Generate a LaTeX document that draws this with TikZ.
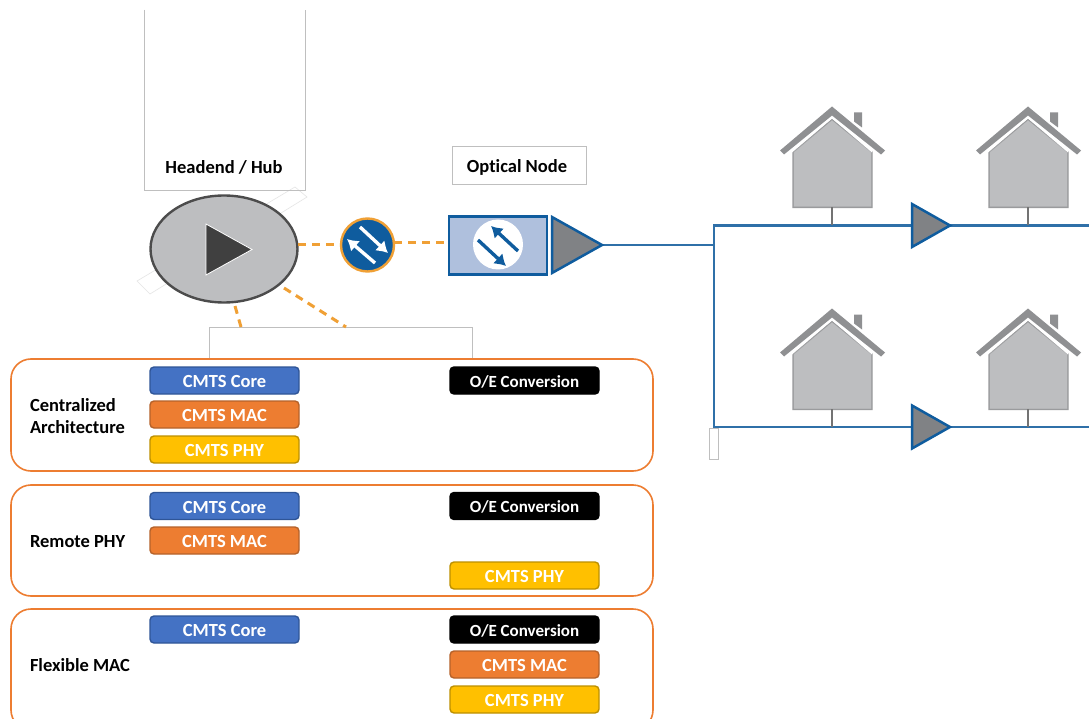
\documentclass[tikz,border=0pt]{standalone}
\usepackage{fontspec}
\setmainfont[Ligatures=NoCommon]{Carlito}
\usetikzlibrary{arrows.meta,calc,shapes.geometric}
\definecolor{netblue}{HTML}{0F5C9E}
\definecolor{linkblue}{HTML}{2F70A8}
\definecolor{dashor}{HTML}{F0A035}
\definecolor{panelor}{HTML}{ED7D31}
\definecolor{framegr}{HTML}{BFBFBF}
\definecolor{roofgr}{HTML}{8F9092}
\definecolor{bodygr}{HTML}{BDBEC0}
\definecolor{edgegr}{HTML}{9A9B9D}
\definecolor{ampgr}{HTML}{808285}
\definecolor{corefill}{HTML}{4472C4}
\definecolor{coreedge}{HTML}{2F5597}
\definecolor{macedge}{HTML}{B5622A}
\definecolor{phyfill}{HTML}{FFC000}
\definecolor{phyedge}{HTML}{BC9000}
\definecolor{nodefill}{HTML}{AFC0DD}
\tikzset{
  x=1pt,y=-1pt,
  every node/.style={inner sep=0pt,outer sep=0pt,font=\fontsize{18.5}{20}\selectfont\bfseries},
  tag/.style={rounded corners=4pt,minimum width=149pt,minimum height=27pt,line width=1.4pt,text=white,anchor=north west,text height=14pt,text depth=0pt},
  corebox/.style={tag,fill=corefill,draw=coreedge},
  macbox/.style={tag,fill=panelor,draw=macedge},
  phybox/.style={tag,fill=phyfill,draw=phyedge},
  oebox/.style={tag,fill=black,draw=black,text height=13pt,font=\fontsize{17}{20}\selectfont\bfseries},
  panel/.style={draw=panelor,line width=1.6pt,rounded corners=20pt,fill=white},
  archlabel/.style={anchor=west,align=left,text=black},
  frameline/.style={draw=framegr,line width=0.9pt},
  faint/.style={draw=black!10,line width=0.6pt},
  dashlink/.style={draw=dashor,line width=3pt,dash pattern=on 8pt off 6pt},
  cable/.style={draw=linkblue,line width=2.2pt},
  stem/.style={draw=black!55,line width=1.6pt},
  ampshape/.style={fill=ampgr,draw=netblue,line width=2.5pt,line join=miter},
  swarrow/.style={line width=3.4pt,-{Latex[length=11pt,width=14pt,sharp]}},
  pics/house/.style={code={
    \fill[bodygr!90!black,draw=edgegr,line width=1.2pt] (-39,-74)--(0,-106)--(40,-74)--(40,-18)--(-39,-18)--cycle;
    \fill[bodygr] (-38,-73)--(0,-105)--(39,-73)--(39,-19)--(-38,-19)--cycle;
    \fill[roofgr] (22,-113)--(30,-113)--(30,-98)--(22,-104)--cycle;
    \fill[white] (0,-113)--(42,-78)--(40,-73)--(0,-107)--(-40,-73)--(-42,-78)--cycle;
    \fill[roofgr] (0,-119)--(53,-75)--(49,-71)--(0,-110)--(-48,-71)--(-52,-75)--cycle;
  }}
}
\begin{document}
\begin{tikzpicture}
\useasboundingbox (0,0) rectangle (1089,719);
\fill[white] (0,0) rectangle (1089,719);

% faint rotated frame behind the hub
\draw[faint] (137,281)--(150,294)--(307,197)--(295,187)--cycle;

% frames
\draw[frameline] (144,10)--(144,190.5)--(283,190.5);
\draw[frameline] (283,190.5)--(305,190.5)--(305,10);
\node[draw=framegr,line width=0.9pt,minimum width=134pt,minimum height=38pt,anchor=north west] (optlabel) at (452.5,146) {};
\node[text=black] (hubtext) at (224,167) {Headend / Hub};
\node[text=black] (opttext) at (517,167) {Optical Node};
\node[draw=framegr,line width=0.6pt,minimum width=9pt,minimum height=31pt,anchor=north west] (tinybox) at (709,428) {};

% connector frame
\coordinate (fl) at (209.5,358);
\coordinate (fr) at (472.5,358);
\draw[frameline] (fl)--(209.5,327.5)--(472.5,327.5)--(fr);

% hub, switch and node shapes
\node[ellipse,draw=black!70,line width=2.4pt,fill=bodygr,minimum width=147pt,minimum height=107pt] (hub) at (224,249) {};
\draw[fill=black!75,draw=white,line width=0.8pt] (206,224)--(206,275)--(252,249.5)--cycle;

\node[circle,draw=dashor,line width=2.4pt,fill=netblue,minimum size=53pt] (sw) at (367.5,245) {};
\draw[white,swarrow] (360,227)--(388,253);
\draw[white,swarrow] (375,263)--(347,239);

\node[draw=netblue,line width=2.8pt,fill=nodefill,minimum width=98pt,minimum height=58pt] (onode) at (498,245.5) {};
\node[circle,fill=white,minimum size=50pt] (onodec) at (498,244.5) {};
\draw[netblue,swarrow] (518,251)--(491,226);
\draw[netblue,swarrow] (478,240)--(506,266);

% named junctions
\coordinate (amp0) at (602,245);
\coordinate (jmid) at (714,245);
\coordinate (jtop) at (714,225.5);
\coordinate (jbot) at (714,427);
\coordinate (amp1) at (950,225.5);
\coordinate (amp2) at (950,427);
\coordinate (endtop) at (1089,225.5);
\coordinate (endbot) at (1089,427);
\coordinate (h1) at (832,225.5);
\coordinate (h2) at (1028,225.5);
\coordinate (h3) at (832,427);
\coordinate (h4) at (1028,427);
\coordinate (s1) at (298,245);
\coordinate (s2) at (394,243);
\coordinate (s3) at (449,243);

% dashed links
\draw[dashlink] (s1)--(sw.west);
\draw[dashlink] (s2)--(s3);
\coordinate (d1a) at (235,306);
\coordinate (d1b) at (241,327);
\coordinate (d2a) at (284,288);
\coordinate (d2b) at (346,327);
\draw[dashlink] (d1a)--(d1b);
\draw[dashlink] (d2a)--(d2b);

% cables
\draw[cable] (amp0)--(jmid);
\draw[cable] (endtop)--(jtop)--(jbot)--(endbot);

% houses
\path (h1) pic {house};
\path (h2) pic {house};
\path (h3) ++(0,0.5) pic {house};
\path (h4) ++(0,0.5) pic {house};
\draw[stem] (h1)++(0,-18)--(h1);
\draw[stem] (h2)++(0,-18)--(h2);
\draw[stem] (h3)++(0,-18)--(h3);
\draw[stem] (h4)++(0,-18)--(h4);

% amplifiers
\draw[ampshape] (552,217)--(amp0)--(552,273)--cycle;
\draw[ampshape] (912,204)--(amp1)--(912,247)--cycle;
\draw[ampshape] (912,405.5)--(amp2)--(912,448.5)--cycle;

% panels
\draw[panel] (11,359) rectangle (653,471);
\draw[panel] (11,485) rectangle (653,596);
\draw[panel] (11,609) rectangle (653,730);

\node[archlabel] (a1a) at (30,405) {Centralized};
\node[archlabel] (a1b) at (30,427.5) {Architecture};
\node[archlabel] (a2) at (30,541.5) {Remote PHY};
\node[archlabel] (a3) at (30,665.5) {Flexible MAC};

\node[corebox] (c1) at (150,367) {CMTS Core};
\node[macbox]  (m1) at (150,401) {CMTS MAC};
\node[phybox]  (p1) at (150,436) {CMTS PHY};
\node[oebox]   (o1) at (450,367) {O/E Conversion};

\node[corebox] (c2) at (150,492.5) {CMTS Core};
\node[macbox]  (m2) at (150,527) {CMTS MAC};
\node[phybox]  (p2) at (450,562) {CMTS PHY};
\node[oebox]   (o2) at (450,492.5) {O/E Conversion};

\node[corebox] (c3) at (150,616) {CMTS Core};
\node[oebox]   (o3) at (450,616) {O/E Conversion};
\node[macbox]  (m3) at (450,651) {CMTS MAC};
\node[phybox]  (p3) at (450,686) {CMTS PHY};
\end{tikzpicture}
\end{document}
